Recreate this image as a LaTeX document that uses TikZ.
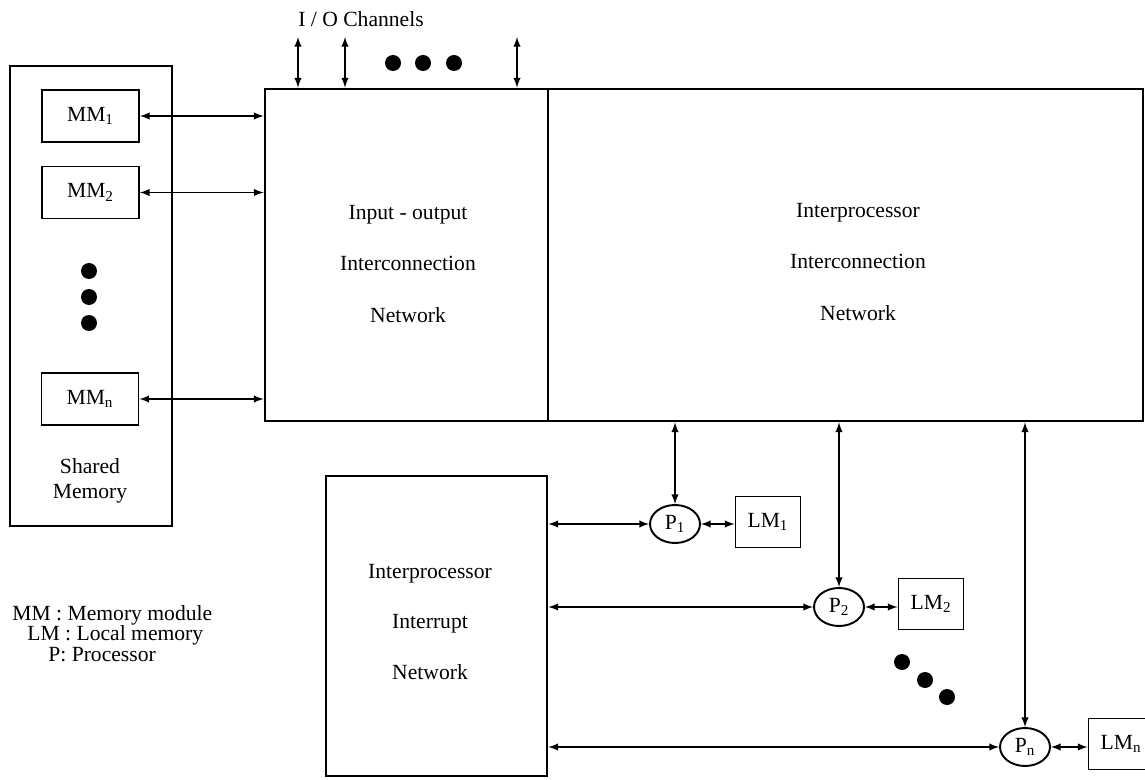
\documentclass[tikz,border=0pt]{standalone}
\usepackage{fontspec}
\setmainfont{Liberation Serif}
\usetikzlibrary{shapes.geometric, arrows}
\tikzstyle{arrow} = [line width=0.9pt,<->,>=latex]
\tikzstyle{outer} = [draw, line width=1.6pt]
\tikzstyle{mmbox} = [draw, line width=1.1pt, minimum width=1.94cm, minimum height=1.04cm]
\tikzstyle{lmbox} = [draw, line width=1.1pt, minimum width=1.3cm, minimum height=1.02cm]
\tikzstyle{proc} = [draw, ellipse, line width=1.1pt, minimum width=1.0cm, minimum height=0.76cm, inner sep=0pt]
\tikzstyle{legend} = [anchor=west, inner sep=0pt]

\begin{document}
\begin{tikzpicture}[x=0.02cm, y=-0.02cm, font=\fontsize{12.3}{14}\selectfont]
        \useasboundingbox (0,0) rectangle (1145,780);

        % shared memory
        \node[outer, minimum width=3.24cm, minimum height=9.2cm] (shared) at (91,296) {};
        \node[mmbox] (mm1) at (90.5,116) {MM\textsubscript{1}};
        \node[mmbox] (mm2) at (90.5,192.5) {MM\textsubscript{2}};
        \node[mmbox] (mmn) at (90,399) {MM\textsubscript{n}};
        \foreach \y in {271,297,323} \fill (89,\y) circle (8);
        \node[align=center] (sharedlabel) at (90,481) {Shared\\Memory};

        % interconnection networks
        \node[outer, minimum width=5.66cm, minimum height=6.64cm] (ionet) at (406.5,255) {};
        \node[outer, minimum width=11.9cm, minimum height=6.64cm] (ipnet) at (845.5,255) {};
        \node[align=center] (iolabel) at (408,264) {Input - output\\[15.5pt]Interconnection\\[15.5pt]Network};
        \node[align=center] (iplabel) at (858,262) {Interprocessor\\[15.5pt]Interconnection\\[15.5pt]Network};

        % I/O channels
        \node (iotext) at (361,19) {I / O Channels};
        \coordinate (io1) at (298,37);
        \coordinate (io2) at (345,37);
        \coordinate (io3) at (517,37);
        \foreach \c in {io1,io2,io3} \draw[arrow] (\c) -- (\c |- ionet.north);
        \foreach \x in {393,423,454} \fill (\x,63) circle (8);

        \draw[arrow] (mm1.east) -- (mm1.east -| ionet.west);
        \draw[arrow] (mm2.east) -- (mm2.east -| ionet.west);
        \draw[arrow] (mmn.east) -- (mmn.east -| ionet.west);

        % interrupt network and processors
        \node[outer, minimum width=4.42cm, minimum height=6.0cm] (intr) at (436.5,626) {};
        \node[align=center] (intrlabel) at (430,622) {Interprocessor\\[14.6pt]Interrupt\\[14.6pt]Network};

        \node[proc] (p1) at (675,524) {P\textsubscript{1}};
        \node[lmbox] (lm1) at (768,522) {LM\textsubscript{1}};
        \node[proc] (p2) at (839,607) {P\textsubscript{2}};
        \node[lmbox] (lm2) at (931,604) {LM\textsubscript{2}};
        \node[proc] (pn) at (1025,747) {P\textsubscript{n}};
        \node[lmbox] (lmn) at (1121,744) {LM\textsubscript{n}};
        \foreach \x/\y in {902/662,925/680,947/697} \fill (\x,\y) circle (8);

        \foreach \p/\l in {p1/lm1,p2/lm2,pn/lmn} {
            \draw[arrow] (\p |- ipnet.south) -- (\p.north);
            \draw[arrow] (intr.east |- \p) -- (\p.west);
            \draw[arrow] (\p.east) -- (\p.east -| \l.west);
        }

        % legend
        \node[legend] (legmm) at (12,615) {MM : Memory module};
        \node[legend] (leglm) at (27,635) {LM : Local memory};
        \node[legend] (legp) at (48,655) {P: Processor};
\end{tikzpicture}
\end{document}
